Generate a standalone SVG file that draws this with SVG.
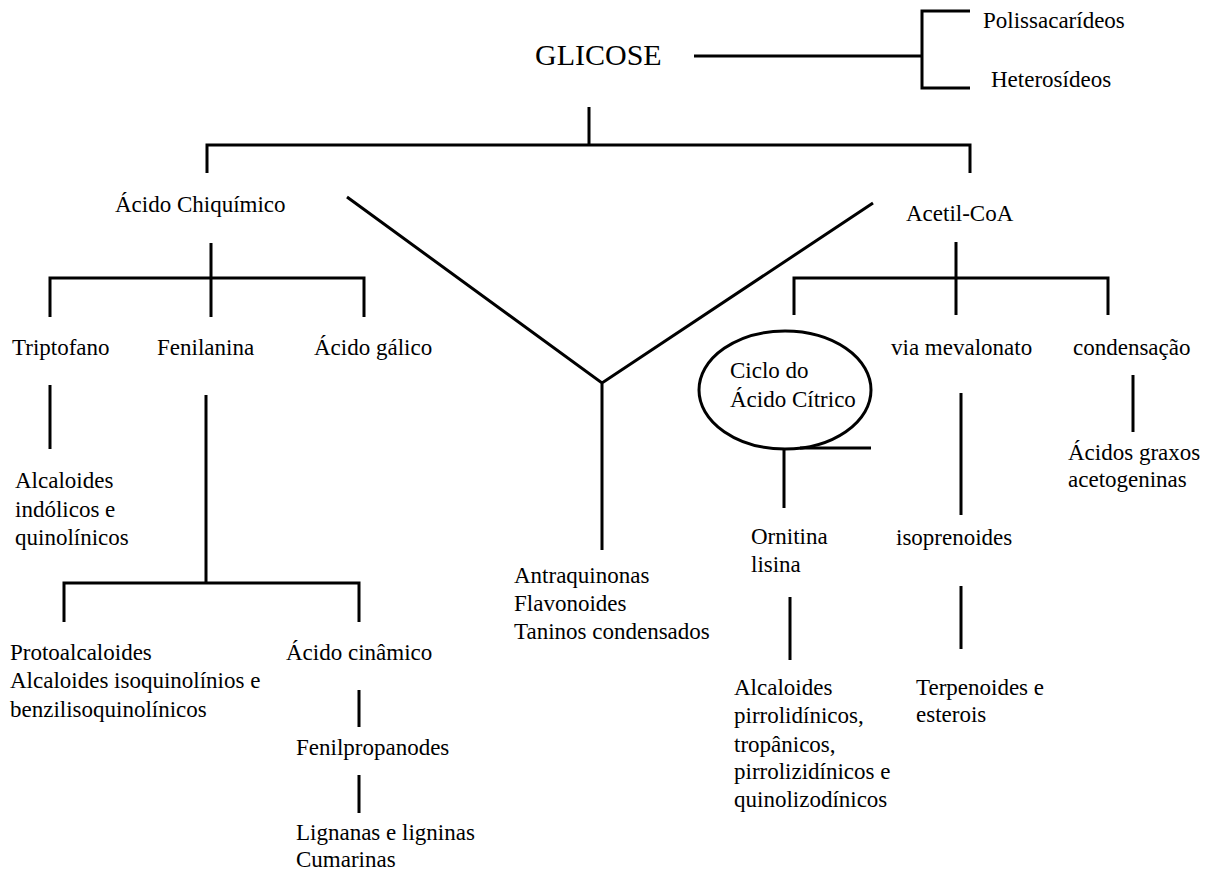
<svg xmlns="http://www.w3.org/2000/svg" width="1214" height="871" viewBox="0 0 1214 871">
<style>
text{font-family:"Liberation Serif","Times New Roman",serif;font-size:23px;fill:#000}
.big{font-size:30px}
.c{fill:none;stroke:#000;stroke-width:3;stroke-linecap:butt;stroke-linejoin:miter}
</style>
<rect width="1214" height="871" fill="#fff"/>
<g id="connectors" class="c">
<path d="M694 56H922M970 11H922V88H970"/>
<path d="M589 107V145M207 173V145H970V173"/>
<path d="M211 243V317M50 317V278H364V317"/>
<path d="M50 385V449"/>
<path d="M206 395V583M64 622V583H359V622"/>
<path d="M359 690V727M359 775V813"/>
<path d="M347 197L602 383L873 203M602 383V550"/>
<path d="M956 242V315M794 315V278H1108V315"/>
<path d="M784 450V508M790 597V660"/>
<path d="M800 448H871"/>
<path d="M961 393V515M961 586V649"/>
<path d="M1133 375V432"/>
</g>
<g id="glicose"><text class="big" x="535" y="65">GLICOSE</text></g>
<g id="polissacarideos"><text x="983" y="28">Polissacarídeos</text></g>
<g id="heterosideos"><text x="991" y="87">Heterosídeos</text></g>
<g id="acido-chiquimico"><text x="115" y="212">Ácido Chiquímico</text></g>
<g id="acetil-coa"><text x="906" y="221">Acetil-CoA</text></g>
<g id="triptofano"><text x="12" y="355">Triptofano</text></g>
<g id="fenilanina"><text x="157" y="355">Fenilanina</text></g>
<g id="acido-galico"><text x="314" y="355">Ácido gálico</text></g>
<g id="alcaloides-indolicos"><text x="15" y="488">Alcaloides</text><text x="15" y="517">indólicos e</text><text x="15" y="545">quinolínicos</text></g>
<g id="protoalcaloides"><text x="10" y="660">Protoalcaloides</text><text x="10" y="688">Alcaloides  isoquinolínios e</text><text x="10" y="717">benzilisoquinolínicos</text></g>
<g id="acido-cinamico"><text x="286" y="660">Ácido cinâmico</text></g>
<g id="fenilpropanodes"><text x="296" y="755">Fenilpropanodes</text></g>
<g id="lignanas"><text x="296" y="840">Lignanas  e ligninas</text><text x="296" y="867">Cumarinas</text></g>
<g id="antraquinonas"><text x="514" y="583">Antraquinonas</text><text x="514" y="611">Flavonoides</text><text x="514" y="639">Taninos  condensados</text></g>
<g id="ciclo"><ellipse cx="785" cy="390" rx="86" ry="59" fill="none" stroke="#000" stroke-width="3"/><text x="730" y="378">Ciclo do</text><text x="730" y="407">Ácido Cítrico</text></g>
<g id="via-mevalonato"><text x="891" y="355">via mevalonato</text></g>
<g id="condensacao"><text x="1073" y="355">condensação</text></g>
<g id="acidos-graxos"><text x="1068" y="460">Ácidos graxos</text><text x="1068" y="487">acetogeninas</text></g>
<g id="ornitina"><text x="751" y="544">Ornitina</text><text x="751" y="572">lisina</text></g>
<g id="isoprenoides"><text x="896" y="545">isoprenoides</text></g>
<g id="alcaloides-pirrolidinicos"><text x="734" y="695">Alcaloides</text><text x="734" y="723">pirrolidínicos,</text><text x="734" y="752">tropânicos,</text><text x="734" y="779">pirrolizidínicos  e</text><text x="734" y="807">quinolizodínicos</text></g>
<g id="terpenoides"><text x="916" y="695">Terpenoides e</text><text x="916" y="722">esterois</text></g>
</svg>
